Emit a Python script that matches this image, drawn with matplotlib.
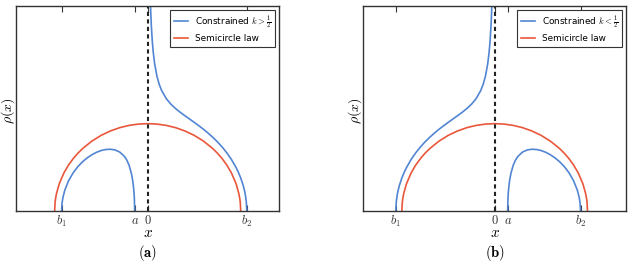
import matplotlib
matplotlib.use('Agg')
import matplotlib.pyplot as plt

plt.rcParams['mathtext.fontset'] = 'cm'
plt.rcParams['font.family'] = ['DejaVu Sans']

BLUE = '#5285d3'
RED = '#e9573a'

# semicircle law (same in both panels)
x_semi = [-2.0, -1.99, -1.98, -1.96, -1.9, -1.8, -1.7, -1.6, -1.5, -1.4, -1.2, -1.0, -0.8, -0.6, -0.4, -0.2, 0.0,
          0.2, 0.4, 0.6, 0.8, 1.0, 1.2, 1.4, 1.5, 1.6, 1.7, 1.8, 1.9, 1.96, 1.98, 1.99, 2.0]
rho_semi = [0.0, 0.0318, 0.0449, 0.0633, 0.0994, 0.1388, 0.1677, 0.1910, 0.2105, 0.2273, 0.2546, 0.2757, 0.2917,
            0.3037, 0.3119, 0.3167, 0.3183, 0.3167, 0.3119, 0.3037, 0.2917, 0.2757, 0.2546, 0.2273, 0.2105,
            0.1910, 0.1677, 0.1388, 0.0994, 0.0633, 0.0449, 0.0318, 0.0]

# panel (a): constrained k > 1/2
ticks_a = [-1.85, -0.28, 0.0, 2.13]
x_a_bump = [-1.85, -1.84, -1.82, -1.78, -1.7, -1.6, -1.5, -1.4, -1.3, -1.2, -1.1, -1.0, -0.9, -0.8, -0.7, -0.6,
            -0.5, -0.45, -0.4, -0.35, -0.32, -0.3, -0.29, -0.285, -0.28]
rho_a_bump = [0.0, 0.0292, 0.0504, 0.0764, 0.1103, 0.1396, 0.1618, 0.1794, 0.1936, 0.2050, 0.2139, 0.2203,
              0.2241, 0.2251, 0.2224, 0.2147, 0.1989, 0.1859, 0.1670, 0.1373, 0.1089, 0.0798, 0.0574, 0.0410, 0.0]
x_a_tail = [0.05, 0.06, 0.07, 0.08, 0.1, 0.12, 0.15, 0.2, 0.25, 0.3, 0.4, 0.5, 0.6, 0.7, 0.8, 0.9, 1.0, 1.1, 1.2,
            1.3, 1.4, 1.5, 1.6, 1.7, 1.8, 1.9, 1.95, 2.0, 2.05, 2.08, 2.1, 2.12, 2.13]
rho_a_tail = [0.8129, 0.7533, 0.7078, 0.6716, 0.6173, 0.5782, 0.5362, 0.4904, 0.4605, 0.4390, 0.4094, 0.3891,
              0.3732, 0.3596, 0.3472, 0.3352, 0.3231, 0.3107, 0.2977, 0.2837, 0.2685, 0.2519, 0.2333, 0.2122,
              0.1878, 0.1583, 0.1408, 0.1202, 0.0948, 0.0752, 0.0583, 0.0337, 0.0]

# panel (b): constrained k < 1/2
ticks_b = [-2.13, 0.0, 0.28, 1.85]
x_b_tail = [-2.13, -2.12, -2.1, -2.08, -2.05, -2.0, -1.95, -1.9, -1.8, -1.7, -1.6, -1.5, -1.4, -1.3, -1.2, -1.1,
            -1.0, -0.9, -0.8, -0.7, -0.6, -0.5, -0.4, -0.3, -0.25, -0.2, -0.15, -0.12, -0.1, -0.08, -0.07, -0.06, -0.05]
rho_b_tail = [0.0, 0.0337, 0.0583, 0.0752, 0.0948, 0.1202, 0.1408, 0.1583, 0.1878, 0.2122, 0.2333, 0.2519,
              0.2685, 0.2837, 0.2977, 0.3107, 0.3231, 0.3352, 0.3472, 0.3596, 0.3732, 0.3891, 0.4094, 0.4390,
              0.4605, 0.4904, 0.5362, 0.5782, 0.6173, 0.6716, 0.7078, 0.7533, 0.8129]
x_b_bump = [0.28, 0.285, 0.29, 0.3, 0.32, 0.35, 0.4, 0.45, 0.5, 0.6, 0.7, 0.8, 0.9, 1.0, 1.1, 1.2, 1.3, 1.4, 1.5,
            1.6, 1.7, 1.78, 1.82, 1.84, 1.85]
rho_b_bump = [0.0, 0.0410, 0.0574, 0.0798, 0.1089, 0.1373, 0.1670, 0.1859, 0.1989, 0.2147, 0.2224, 0.2251,
              0.2241, 0.2203, 0.2139, 0.2050, 0.1936, 0.1794, 0.1618, 0.1396, 0.1103, 0.0764, 0.0504, 0.0292, 0.0]

tick_labels_a = ['$b_1$', '$a$', '$0$', '$b_2$']
tick_labels_b = ['$b_1$', '$0$', '$a$', '$b_2$']

fig = plt.figure(figsize=(6.3, 2.63), dpi=100)
ax_a = fig.add_axes([0.0254, 0.1977, 0.418, 0.7795])
ax_b = fig.add_axes([0.5767, 0.1977, 0.417, 0.7795])


def draw_panel(ax, bump_x, bump_y, tail_x, tail_y, ticks, labels, leg_label):
    ax.plot(tail_x, tail_y, color=BLUE, lw=1.2, label=leg_label)
    ax.plot(bump_x, bump_y, color=BLUE, lw=1.2)
    ax.plot(x_semi, rho_semi, color=RED, lw=1.2, label='Semicircle law')
    ax.axvline(0, color='#222222', lw=1.5, ls=(0, (2.0, 1.6)))
    ax.set_xlim(-2.83, 2.83)
    ax.set_ylim(0, 0.747)
    ax.set_xticks(ticks)
    ax.set_xticklabels(labels, fontsize=9)
    ax.set_yticks([])
    ax.tick_params(axis='x', direction='in', top=True, length=4, width=0.8, pad=2, colors='#333333')
    ax.set_xlabel('$x$', fontsize=11, labelpad=-2.5)
    ax.set_ylabel(r'$\rho(x)$', fontsize=10, labelpad=0)
    ax.yaxis.set_label_coords(0.004, 0.49)
    for s in ax.spines.values():
        s.set_color('#333333')
        s.set_linewidth(1.0)
    leg = ax.legend(loc='upper right', fontsize=6.4, handlelength=1.6, fancybox=False,
                    framealpha=1, borderpad=0.45, labelspacing=0.35, borderaxespad=0.45,
                    handletextpad=0.8)
    leg.get_frame().set_edgecolor('#333333')
    leg.get_frame().set_linewidth(0.8)


draw_panel(ax_a, x_a_bump, rho_a_bump, x_a_tail, rho_a_tail, ticks_a, tick_labels_a,
           r'Constrained $k > \frac{1}{2}$')
draw_panel(ax_b, x_b_bump, rho_b_bump, x_b_tail, rho_b_tail, ticks_b, tick_labels_b,
           r'Constrained $k < \frac{1}{2}$')

fig.text(147 / 630, 1 - 253 / 263, r'$\mathbf{(a)}$', ha='center', va='center', fontsize=10.5)
fig.text(495 / 630, 1 - 253 / 263, r'$\mathbf{(b)}$', ha='center', va='center', fontsize=10.5)

fig.savefig('out.png', dpi=100)
